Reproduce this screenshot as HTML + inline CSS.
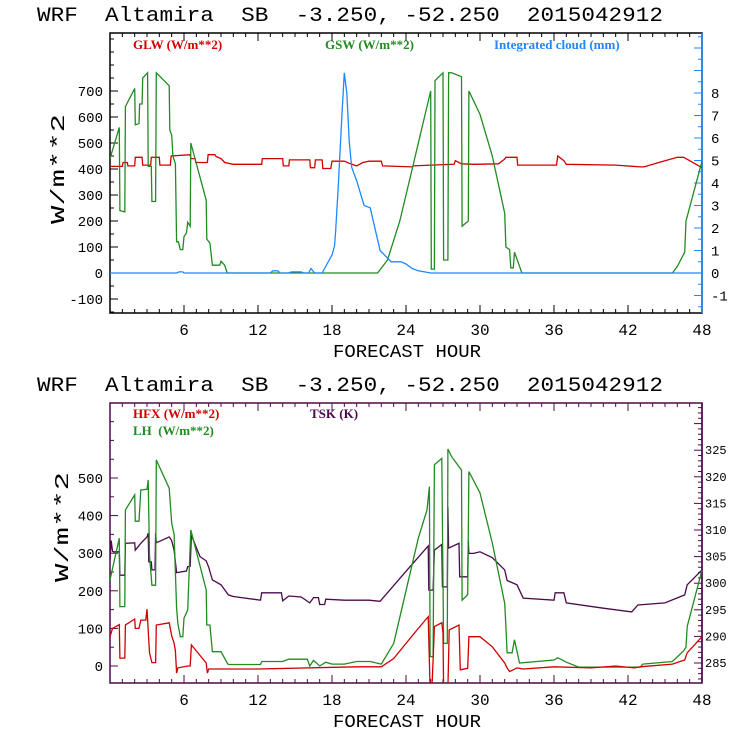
<!DOCTYPE html>
<html><head><meta charset="utf-8"><style>
body{margin:0;background:#fff;width:740px;height:740px;overflow:hidden}
svg text{font-family:"Liberation Mono",monospace}
.ttl{white-space:pre}
.lg{font-family:"Liberation Serif",serif;font-weight:bold;font-size:13px}
</style></head><body>
<svg id="s" width="740" height="740" viewBox="0 0 740 740" xmlns="http://www.w3.org/2000/svg">
<text class="ttl" xml:space="preserve" x="37" y="21" font-size="20" textLength="626" lengthAdjust="spacingAndGlyphs">WRF  Altamira  SB  -3.250, -52.250  2015042912</text>
<text class="ttl" xml:space="preserve" x="37" y="391" font-size="20" textLength="626" lengthAdjust="spacingAndGlyphs">WRF  Altamira  SB  -3.250, -52.250  2015042912</text>
<text x="333" y="357" font-size="18" textLength="148" lengthAdjust="spacingAndGlyphs">FORECAST HOUR</text>
<text x="333" y="727" font-size="18" textLength="148" lengthAdjust="spacingAndGlyphs">FORECAST HOUR</text>
<text transform="translate(64,224) rotate(-90)" font-size="19" textLength="110" lengthAdjust="spacingAndGlyphs">W/m**2</text>
<text transform="translate(68,582) rotate(-90)" font-size="19" textLength="110" lengthAdjust="spacingAndGlyphs">W/m**2</text>
<text class="lg" x="133" y="49" fill="#d00000">GLW (W/m**2)</text>
<text class="lg" x="325" y="49" fill="#228b22">GSW (W/m**2)</text>
<text class="lg" x="494" y="49" fill="#1e88ff">Integrated cloud (mm)</text>
<text class="lg" x="133" y="418" fill="#d00000">HFX (W/m**2)</text>
<text class="lg" x="133" y="435" fill="#228b22" xml:space="preserve" style="white-space:pre">LH  (W/m**2)</text>
<text class="lg" x="310" y="418" fill="#4b0a4b">TSK (K)</text>
</svg>
<script>
// ---- data (hours / values) ----
const glwH=[0,1,1.05,1.4,1.45,2,2.05,2.6,2.65,3.3,3.35,4,4.05,4.9,4.95,6.5,6.55,6.9,6.95,7.9,7.95,8.5,8.6,9,9.3,10,12.3,12.35,14,14.05,14.5,14.55,16.2,16.25,16.6,16.65,17.2,17.25,17.9,18,19,19.5,20,20.5,21,22,22.1,24.5,24.6,26,27.9,28,28.5,29.5,31.5,32,32.1,33,33.05,36.2,36.3,36.8,37,41,43,43.3,44.5,46,46.5,46.9,48];
const glwV=[410,410,425,425,412,412,445,445,415,415,445,445,415,415,450,455,440,440,425,425,455,455,448,440,425,418,418,440,440,412,412,435,435,405,405,435,435,402,402,430,430,420,412,425,430,430,412,408,412,415,418,432,420,418,420,438,445,445,415,415,450,432,418,415,408,408,425,445,445,435,405,405];
const gswH=[0,0.75,0.8,1.2,1.25,2,2.05,2.35,2.4,2.6,2.65,3.05,3.1,3.35,3.4,3.7,3.75,4.8,4.85,5,5.1,5.3,5.4,5.55,5.7,5.9,6,6.2,6.3,6.5,6.55,7.8,7.85,8.1,8.3,8.9,9,9.3,9.5,21.7,22.5,23.5,24.5,25.5,26,26.05,26.3,26.35,27,27.05,27.4,27.45,27.7,28.5,28.55,29.05,29.1,30,31,32,32.1,32.4,32.5,32.7,32.8,33.4,45.6,46,46.6,46.7,48];
const gswV=[440,560,240,235,640,710,570,575,650,650,750,770,410,410,275,275,770,720,550,530,450,420,120,120,90,90,140,155,195,180,500,280,130,115,30,30,45,30,0,0,50,200,400,600,700,15,15,740,770,50,50,770,770,755,180,200,700,610,450,230,100,90,20,20,80,0,0,25,80,200,430];
const cldH=[0,5.4,5.6,5.9,6,13,13.2,13.6,13.8,14.5,14.7,15.5,15.7,16.1,16.3,16.6,17.2,17.8,18,18.2,18.3,18.5,18.8,19,19.2,19.4,19.6,20,20.6,21.1,21.9,22.8,23.6,24,24.5,25,25.5,26,48];
const cldV=[0,0,0.05,0.05,0,0,0.1,0.1,0,0,0.05,0.05,0,0,0.2,0,0,0.6,0.8,1.2,1.9,3.8,7,8.9,8,5.8,4.7,4.1,3,2.9,1,0.5,0.5,0.4,0.2,0.1,0.05,0,0];
const tskH=[0,0.1,0.2,0.3,0.75,0.8,1.2,1.25,2,2.05,2.5,3,3.1,3.15,3.35,3.4,3.65,3.7,3.75,4.8,5,5.2,5.4,6.2,6.3,6.5,6.6,7.3,7.8,8,8.3,9,9.6,10,12.2,12.3,13.9,14,14.5,15.5,16.2,16.5,16.9,17,17.4,17.5,19,21,21.9,24.1,25.8,25.85,26.2,26.3,26.9,26.95,27.35,27.4,27.45,28.3,28.35,29,29.05,29.1,29.5,30,31,32,32.2,33,33.5,36,36.1,36.8,37,40,42.3,42.8,45,46.6,46.8,48];
const tskV=[304.4,308,306,305.9,305.9,301.5,301.5,307.5,307.6,306.2,307.5,308.7,309.4,304,304,302.5,302.5,309.4,307.6,308.7,308,306.2,302,302.3,303.1,303.2,309,305,304.2,303,300.6,299.7,297.8,297.5,296.8,298.2,298.2,296.7,297.6,297.4,296.3,297.3,297.3,296,296,297,296.8,296.8,296.6,302.5,307,298.7,298.7,306.2,307.3,299.3,299.3,314.4,306.6,307.5,301.2,301.2,308,305.6,305.6,305.9,304.8,302.5,300.5,299.7,297.2,296.8,298.2,298.2,296.3,295.3,294.6,295.9,296.3,297.8,299.7,302.5];
const lhH=[0,0.75,0.8,1.2,1.25,2,2.05,2.35,2.5,3,3.1,3.2,3.4,3.7,3.75,4.8,5,5.2,5.4,5.5,5.7,5.9,6,6.3,6.55,7.8,7.85,8.1,8.3,9,9.5,9.6,12.2,12.3,14,14.5,16,16.2,16.5,17,17.5,18,19,20,21.1,22,23,24,25,25.7,25.9,25.95,26.2,26.3,26.9,27.05,27.35,27.4,27.7,28.5,28.55,29,29.1,30,31,32,32.1,32.2,32.6,32.8,33.2,36,36.3,37,38,43,43.2,45.6,46.5,46.7,46.8,48];
const lhV=[229,340,158,158,415,455,385,385,468,470,495,295,215,215,548,473,380,350,154,114,78,78,127,149,362,202,109,109,38,38,8,4,4,12,12,18,18,0,15,0,10,5,5,12,12,5,60,200,340,415,477,25,25,535,552,60,60,577,557,521,175,190,517,460,327,167,105,35,35,70,8,16,22,10,-3,-3,5,12,40,50,105,255];
const hfxH=[0,0.2,0.75,0.8,1.2,1.25,2,2.05,2.35,2.5,2.9,3,3.2,3.4,3.7,3.75,4.8,5,5.2,5.3,5.4,5.5,6.3,6.5,6.6,7.8,7.9,8,12,20,22,23,24,25,25.8,25.95,26.1,26.2,26.3,26.9,27,27.05,27.4,27.5,28.3,28.4,29,29.1,30,31,32,32.2,32.4,33,33.5,36,39,41,42.5,43,45.6,46.6,46.8,48];
const hfxV=[78,100,110,21,21,109,125,100,100,122,122,151,35,9,9,109,115,80,61,40,-19,-5,0,0,56,8,-19,-8,-8,-2,-2,20,60,100,131,-60,-60,16,105,115,87,-60,-60,96,109,-10,-6,78,78,51,8,-5,-15,-5,-8,-2,-5,0,-5,-2,5,16,35,78];
const hourTicks=[6,12,18,24,30,36,42,48];
const topLeftTicks=[-100,0,100,200,300,400,500,600,700];
const topRightTicks=[-1,0,1,2,3,4,5,6,7,8];
const botLeftTicks=[0,100,200,300,400,500];
const botRightTicks=[285,290,295,300,305,310,315,320,325];

// ---- geometry ----
const X0=110,X1=702;
const x=h=>X0+h*(X1-X0)/48;
const T={top:33,bot:313}, B={top:403,bot:683};
const yTL=v=>273-v*0.26, yTR=v=>273-v*22.5;
const yBL=v=>666-v*0.376, yBR=k=>663-(k-285)*5.32;
const S=document.getElementById('s'),NS='http://www.w3.org/2000/svg';
function mk(t,a){const e=document.createElementNS(NS,t);for(const k in a)e.setAttribute(k,a[k]);S.appendChild(e);return e;}
function line(x1,y1,x2,y2,c){return mk('line',{x1,y1,x2,y2,stroke:c,'stroke-width':1});}
function txt(s,xx,yy,anchor,size){const e=mk('text',{x:xx,y:yy,'text-anchor':anchor,'font-size':size});e.textContent=s;return e;}

function series(H,V,fy,col,clipId,name){
  let d='';for(let i=0;i<H.length;i++)d+=(i?'L':'M')+x(H[i]).toFixed(1)+','+fy(V[i]).toFixed(1);
  const p=mk('path',{d,fill:'none',stroke:col,'stroke-width':1.3,'clip-path':'url(#'+clipId+')'});
  
  
}
const defs=mk('defs',{});
defs.innerHTML='<clipPath id="ct"><rect x="110" y="33" width="592" height="280"/></clipPath><clipPath id="cb"><rect x="110" y="403" width="592" height="280"/></clipPath>';

function frame(P,fyL,lmin,lmax,lstep,majorSet,leftCol,rightCol,name){
  const r=mk('rect',{x:X0,y:P.top,width:X1-X0,height:P.bot-P.top,fill:'none',stroke:leftCol,'stroke-width':1.5});
  
  
  line(X1,P.top,X1,P.bot,rightCol).setAttribute('stroke-width',1.5);
  for(let h=1;h<48;h++){const L=h%6?4:8;line(x(h),P.bot,x(h),P.bot-L,leftCol);line(x(h),P.top,x(h),P.top+L,leftCol);}
  for(let v=lmin;v<=lmax;v+=lstep){const yy=fyL(v);if(yy<P.top||yy>P.bot)continue;const L=majorSet.includes(v)?8:4;line(X0,yy,X0+L,yy,leftCol);}
  hourTicks.forEach(h=>txt(String(h),x(h),P.bot+22,'middle',16));
}
frame(T,yTL,-150,900,50,topLeftTicks,'#000','#1e88ff','top-plot-frame');
for(let v=-1.5;v<=10.5;v+=0.5){const yy=yTR(v);if(yy<T.top||yy>T.bot)continue;line(X1,yy,X1-(v%1?4:8),yy,'#1e88ff');}
topLeftTicks.forEach(v=>txt(String(v),103,yTL(v)+5,'end',14));
topRightTicks.forEach(v=>txt(String(v),711,yTR(v)+5,'start',14));
series(glwH,glwV,yTL,'#d00000','ct','glw-line');
series(gswH,gswV,yTL,'#228b22','ct','gsw-line');
series(cldH,cldV,yTR,'#1e88ff','ct','cloud-line');

frame(B,yBL,-50,700,50,botLeftTicks,'#4b0a4b','#4b0a4b','bottom-plot-frame');
for(let k=281;k<=337;k++){const yy=yBR(k);if(yy<B.top||yy>B.bot)continue;line(X1,yy,X1-(k%5?4:8),yy,'#4b0a4b');}
botLeftTicks.forEach(v=>txt(String(v),103,yBL(v)+5,'end',14));
botRightTicks.forEach(v=>txt(String(v),705,yBR(v)+4,'start',12));
series(tskH,tskV,yBR,'#4b0a4b','cb','tsk-line');
series(lhH,lhV,yBL,'#228b22','cb','lh-line');
series(hfxH,hfxV,yBL,'#d00000','cb','hfx-line');
</script>
</body></html>
